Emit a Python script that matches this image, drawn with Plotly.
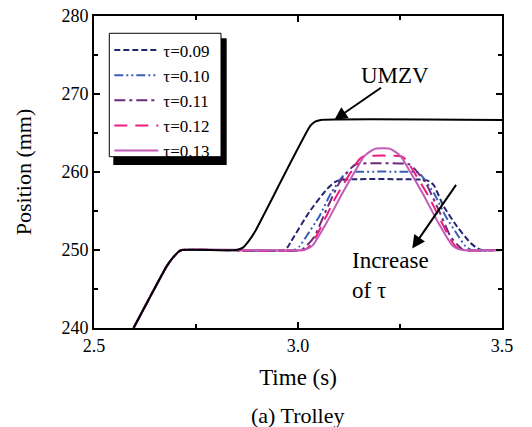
import plotly.graph_objects as go

# ---------------- data ----------------
ramp_t = [2.597, 2.678, 2.690, 2.700, 2.708, 2.715]
ramp_y = [240.0, 247.9, 248.8, 249.4, 249.8, 250.0]

umzv_t = [2.849, 2.865, 2.880, 2.894, 3.030, 3.042, 3.056, 3.5]
umzv_y = [250.0, 250.3, 251.2, 252.3, 265.9, 266.45, 266.67, 266.67]

t09 = [2.963, 2.975, 2.983, 3.028, 3.069, 3.090, 3.105, 3.309, 3.322, 3.333, 3.357, 3.390, 3.423, 3.440, 3.451, 3.5]
y09 = [250.0, 250.4, 251.1, 254.9, 257.7, 258.7, 259.0, 259.0, 258.8, 258.3, 255.6, 253.0, 250.9, 250.2, 250.0, 250.0]

t10 = [2.990, 3.004, 3.020, 3.052, 3.081, 3.109, 3.118, 3.125, 3.289, 3.296, 3.305, 3.333, 3.362, 3.394, 3.410, 3.425, 3.5]
y10 = [250.0, 250.5, 251.7, 254.3, 257.3, 259.4, 259.9, 260.0, 260.0, 259.9, 259.4, 257.3, 254.3, 251.7, 250.5, 250.0, 250.0]

t11 = [3.008, 3.022, 3.040, 3.069, 3.101, 3.130, 3.142, 3.272, 3.284, 3.313, 3.345, 3.374, 3.392, 3.406, 3.5]
y11 = [250.0, 250.6, 251.7, 255.1, 258.6, 260.5, 261.0, 261.0, 260.5, 258.6, 255.1, 251.7, 250.6, 250.0, 250.0]

t12 = [3.015, 3.030, 3.045, 3.069, 3.093, 3.138, 3.150, 3.160, 3.254, 3.264, 3.276, 3.321, 3.345, 3.369, 3.384, 3.399, 3.5]
y12 = [250.0, 250.6, 251.8, 254.3, 256.8, 260.7, 261.6, 262.0, 262.0, 261.6, 260.7, 256.8, 254.3, 251.8, 250.6, 250.0, 250.0]

t13 = [3.010, 3.025, 3.036, 3.069, 3.109, 3.142, 3.162, 3.179, 3.190, 3.224, 3.235, 3.252, 3.272, 3.305, 3.345, 3.378, 3.389, 3.404, 3.5]
y13 = [250.0, 250.2, 250.6, 253.4, 257.3, 260.3, 262.0, 262.7, 263.0, 263.0, 262.7, 262.0, 260.3, 257.3, 253.4, 250.6, 250.2, 250.0, 250.0]

series_names = ["τ=0.09", "τ=0.10", "τ=0.11", "τ=0.12", "τ=0.13"]
series_t = [t09, t10, t11, t12, t13]
series_y = [y09, y10, y11, y12, y13]

x_ticks = [2.5, 3.0, 3.5]
x_tick_labels = ["2.5", "3.0", "3.5"]
y_ticks = [240, 250, 260, 270, 280]

# ---------------- styles ----------------
colors = ["#25246f", "#3b5fb6", "#6b2a7c", "#ec1d7d", "#c35bb8"]
dashes = ["6px,3px", "9px,3px,2px,3px,2px,3px", "11px,4px,3px,4px", "13px,8px", "solid"]
FONT = "Liberation Serif, Times New Roman, serif"

fig = go.Figure()
for name, ts, ys, c, d in zip(series_names, series_t, series_y, colors, dashes):
    fig.add_trace(go.Scatter(
        x=ramp_t + ts, y=ramp_y + ys, mode="lines", name=name,
        line=dict(color=c, width=2, dash=d, shape="spline", smoothing=0.5),
    ))

fig.add_trace(go.Scatter(
    x=ramp_t + umzv_t, y=ramp_y + umzv_y, mode="lines", name="UMZV",
    showlegend=False,
    line=dict(color="black", width=2, shape="spline", smoothing=0.5),
))

axis_common = dict(
    showline=True, linecolor="black", linewidth=2, mirror="allticks",
    ticks="inside", ticklen=6, tickwidth=2, tickcolor="black",
    showgrid=False, zeroline=False, automargin=False,
    tickfont=dict(family=FONT, size=18, color="black"),
)

fig.update_xaxes(
    range=[2.5, 3.5], tickvals=x_ticks, ticktext=x_tick_labels,
    minor=dict(ticks="inside", ticklen=4, tickwidth=2, tickcolor="black", dtick=0.25, tick0=2.5),
    title=dict(text="Time (s)", font=dict(family=FONT, size=23, color="black"), standoff=14),
    **axis_common,
)
fig.update_yaxes(
    range=[240, 280], tickvals=y_ticks,
    minor=dict(ticks="inside", ticklen=4, tickwidth=2, tickcolor="black", dtick=5, tick0=240),
    title=dict(text="Position (mm)", font=dict(family=FONT, size=22, color="black"), standoff=24),
    **axis_common,
)

# legend shadow and frame
fig.add_shape(type="rect", xref="paper", yref="paper",
              x0=0.0473, x1=0.3252, y0=0.5224, y1=0.9285,
              fillcolor="black", line=dict(width=0), layer="above")
fig.add_shape(type="rect", xref="paper", yref="paper",
              x0=0.0375, x1=0.3113, y0=0.549, y1=0.9446,
              fillcolor="white", line=dict(color="black", width=1), layer="above")

fig.update_layout(
    template="none",
    width=532, height=427,
    margin=dict(l=94, r=30, t=16, b=99, autoexpand=False),
    paper_bgcolor="white", plot_bgcolor="white",
    font=dict(family=FONT, color="black"),
    showlegend=True,
    legend=dict(
        x=0.0375, y=0.947, xanchor="left", yanchor="top",
        bgcolor="rgba(0,0,0,0)", borderwidth=0,
        font=dict(family=FONT, size=17, color="black"),
        tracegroupgap=0, itemwidth=44,
    ),
    annotations=[
        dict(x=3.089, y=266.67, ax=3.207, ay=270.94, xref="x", yref="y", axref="x", ayref="y",
             text="", showarrow=True, arrowhead=2, arrowsize=1.3, arrowwidth=2, arrowcolor="black"),
        dict(x=3.238, y=272.4, xref="x", yref="y", text="UMZV", showarrow=False,
             font=dict(family=FONT, size=23, color="black")),
        dict(x=3.280, y=250.2, ax=3.390, ay=258.55, xref="x", yref="y", axref="x", ayref="y",
             text="", showarrow=True, arrowhead=2, arrowsize=1.3, arrowwidth=2, arrowcolor="black"),
        dict(x=3.128, y=246.7, xref="x", yref="y", xanchor="left", align="left",
             text="Increase<br>of τ", showarrow=False,
             font=dict(family=FONT, size=23, color="black")),
        dict(x=0.5, y=-0.28, xref="paper", yref="paper", yanchor="middle",
             text="(a) Trolley", showarrow=False,
             font=dict(family=FONT, size=22, color="black")),
    ],
)

fig.write_html("out.html", config={"displayModeBar": False},
               post_script="document.body.style.margin='0px';")
